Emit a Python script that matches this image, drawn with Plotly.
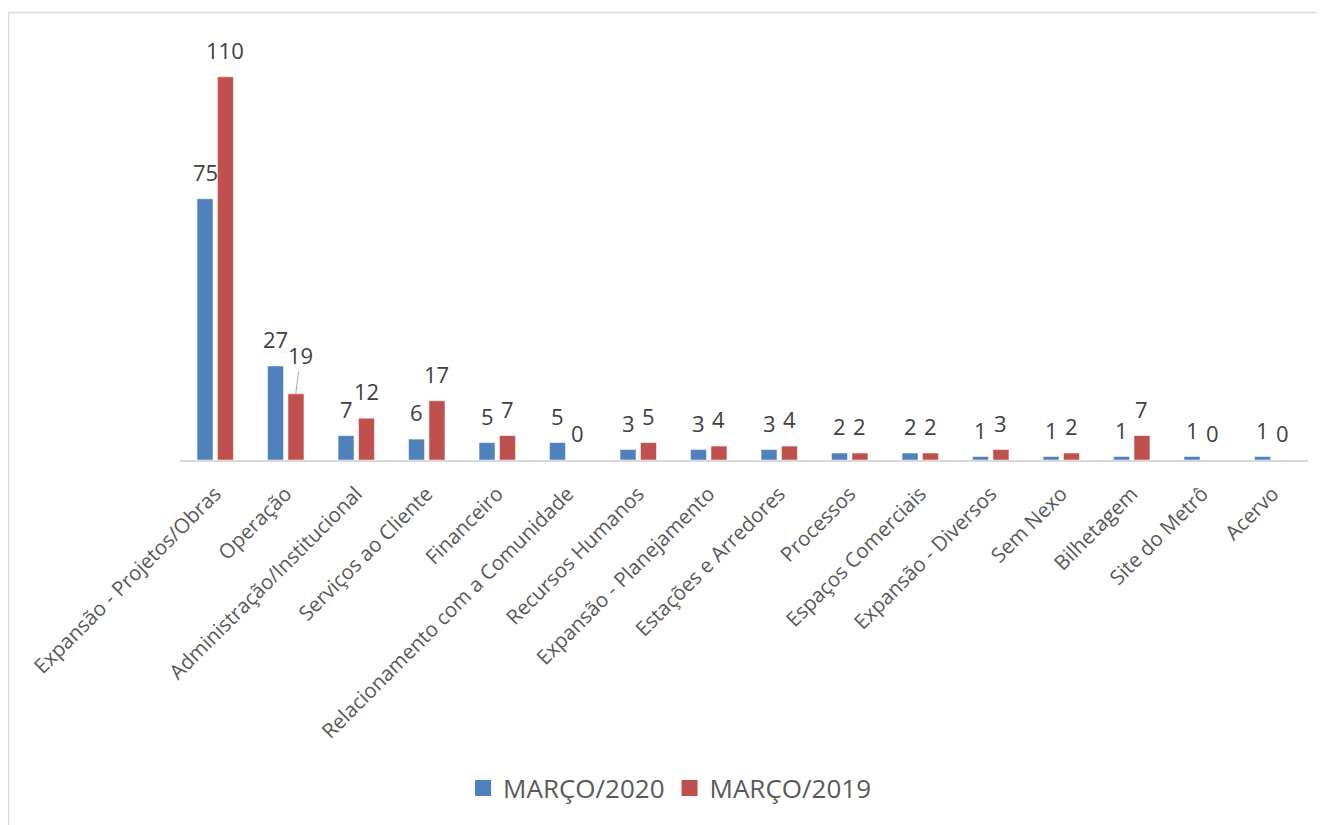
import plotly.graph_objects as go

categories = ["Expansão - Projetos/Obras", "Operação", "Administração/Institucional",
              "Serviços ao Cliente", "Financeiro", "Relacionamento com a Comunidade",
              "Recursos Humanos", "Expansão - Planejamento", "Estações e Arredores",
              "Processos", "Espaços Comerciais", "Expansão - Diversos", "Sem Nexo",
              "Bilhetagem", "Site do Metrô", "Acervo"]
marco_2020 = [75, 27, 7, 6, 5, 5, 3, 3, 3, 2, 2, 1, 1, 1, 1, 1]
marco_2019 = [110, 19, 12, 17, 7, 0, 5, 4, 4, 2, 2, 3, 2, 7, 0, 0]
series_names = ["MARÇO/2020", "MARÇO/2019"]

BLUE = "#4F81BD"
RED = "#C0504D"
FONT = "Open Sans"

# page body adds an 8px offset; figure sized to fit the window
W, H = 1317, 817
L, T = 172, 34
pw, ph = 1128, 418
R, B = W - L - pw, H - T - ph

fig = go.Figure()
for name, vals, col in [(series_names[0], marco_2020, BLUE), (series_names[1], marco_2019, RED)]:
    fig.add_trace(go.Bar(x=categories, y=vals, name=name, marker_color=col,
                         marker_line=dict(color="white", width=0.5), showlegend=False))
    fig.add_trace(go.Scatter(x=[None], y=[None], mode="markers", name=name,
                             marker=dict(symbol="square", size=17, color=col)))

annotations = []
for i, c in enumerate(categories):
    for vals, dx in [(marco_2020, -10), (marco_2019, 10)]:
        v = vals[i]
        if i == 1 and dx > 0:
            annotations.append(dict(x=c, y=v, xref="x", yref="y", text=str(v),
                                    showarrow=True, arrowhead=0, arrowwidth=1,
                                    arrowcolor="#A6A6A6", ax=5, ay=-39,
                                    xshift=dx, standoff=0,
                                    font=dict(family=FONT, size=22, color="#404040")))
        else:
            annotations.append(dict(x=c, y=v, xref="x", yref="y", text=str(v),
                                    showarrow=False, xshift=dx, yshift=27,
                                    yanchor="middle",
                                    font=dict(family=FONT, size=22, color="#404040")))

border_x0 = (0.5 - L) / pw
border_y1 = (ph + T - 4.5) / ph
shapes = [
    dict(type="line", xref="paper", yref="paper", x0=border_x0, x1=border_x0,
         y0=border_y1, y1=-1.2, line=dict(color="#D9D9D9", width=1.5)),
    dict(type="line", xref="paper", yref="paper", x0=border_x0, x1=1.2,
         y0=border_y1, y1=border_y1, line=dict(color="#D9D9D9", width=1.5)),
]

legend_center_px = 780  # figure y of legend row
fig.update_layout(
    width=W, height=H,
    margin=dict(l=L, r=R, t=T, b=B),
    paper_bgcolor="white", plot_bgcolor="white",
    barmode="group", bargap=0.42, bargroupgap=0.22,
    font=dict(family=FONT, color="#595959"),
    annotations=annotations,
    shapes=shapes,
    legend=dict(orientation="h", x=0.434, xanchor="center",
                y=(ph + T - legend_center_px) / ph,
                yanchor="middle", font=dict(family=FONT, size=26, color="#595959"),
                itemwidth=30),
)
fig.update_xaxes(tickangle=-45, showline=True, linecolor="#D9D9D9", linewidth=1.5,
                 showgrid=False, ticks="", ticklabelstandoff=12,
                 tickfont=dict(family=FONT, size=20.5, color="#595959"))
fig.update_yaxes(range=[0, 120], visible=False, showgrid=False)

fig.write_html("out.html")
